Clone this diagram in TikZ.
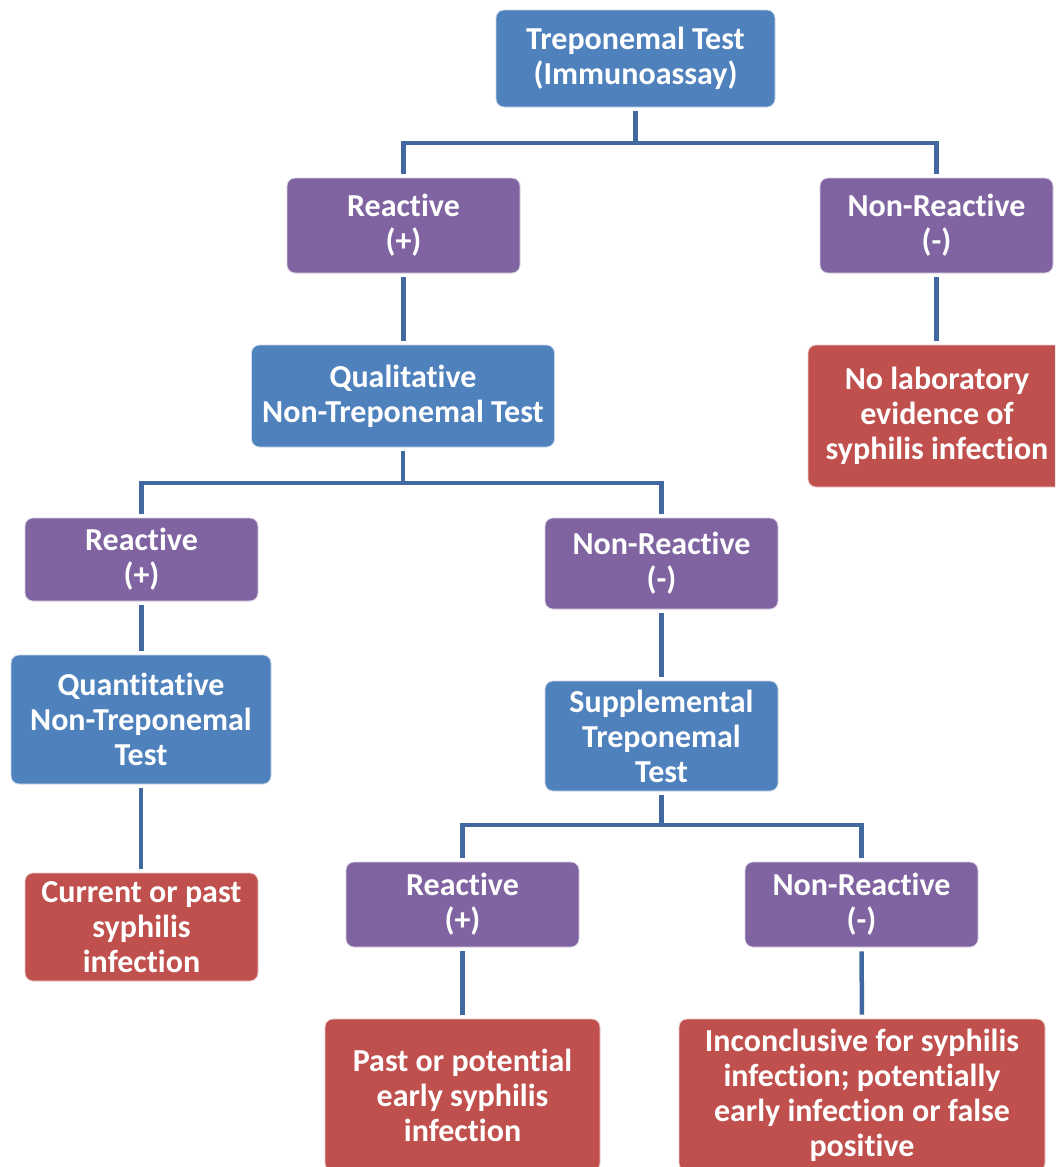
\documentclass[tikz,border=0pt]{standalone}
\usepackage{fontspec}
\setmainfont{Carlito}[Ligatures=NoCommon]
\definecolor{boxblue}{HTML}{4F81BD}
\definecolor{boxpurple}{HTML}{8064A2}
\definecolor{boxred}{HTML}{C0504D}
\definecolor{linecol}{HTML}{4169A0}
\begin{document}
\begin{tikzpicture}[x=1pt,y=-1pt,
  box/.style={rounded corners=8pt, inner sep=0pt, align=center, text=white,
    font=\fontsize{32}{35}\selectfont\bfseries, draw=white!70!#1, line width=0.8pt, fill=#1},
  conn/.style={draw=linecol, line width=4.5pt, shorten <=4pt, shorten >=4pt},
  connA/.style={draw=linecol, line width=4.5pt, shorten <=4pt}]
\clip (0,0) rectangle (1055,1167);
\fill[white] (0,0) rectangle (1055,1167);
\node[box=boxblue, minimum width=279pt, minimum height=97pt] (top) at (635.5,58.5) {Treponemal Test\\(Immunoassay)};
\node[box=boxpurple, minimum width=233pt, minimum height=95pt] (r1) at (403.5,225.5) {Reactive\\(+)};
\node[box=boxpurple, minimum width=233pt, minimum height=95pt] (n1) at (936.5,225.5) {Non-Reactive\\(-)};
\node[box=boxblue, minimum width=303pt, minimum height=102pt] (qual) at (403,396) {Qualitative\\Non-Treponemal Test};
\node[box=boxred, minimum width=258pt, minimum height=142pt] (nolab) at (937,416) {No laboratory\\evidence of\\syphilis infection};
\node[box=boxpurple, minimum width=233pt, minimum height=83pt] (r2) at (141.5,559.5) {Reactive\\(+)};
\node[box=boxpurple, minimum width=233pt, minimum height=91pt] (n2) at (661.5,563.5) {Non-Reactive\\(-)};
\node[box=boxblue, minimum width=260pt, minimum height=129pt] (quant) at (141,719.5) {Quantitative\\Non-Treponemal\\Test};
\node[box=boxblue, minimum width=233pt, minimum height=110pt] (supp) at (661.5,736) {Supplemental\\Treponemal\\Test};
\node[box=boxred, minimum width=233pt, minimum height=108pt] (cur) at (141.5,927) {Current or past\\syphilis\\infection};
\node[box=boxpurple, minimum width=233pt, minimum height=85pt] (r3) at (462.5,904.5) {Reactive\\(+)};
\node[box=boxpurple, minimum width=233pt, minimum height=85pt] (n3) at (861.5,904.5) {Non-Reactive\\(-)};
\node[box=boxred, minimum width=275pt, minimum height=152pt] (past) at (462.5,1095) {Past or potential\\early syphilis\\infection};
\node[box=boxred, minimum width=366pt, minimum height=152pt] (inc) at (862,1095) {Inconclusive for syphilis\\infection; potentially\\early infection or false\\positive};
\coordinate (j1) at (top.south |- 0,143);
\coordinate (j2) at (qual.south |- 0,483);
\coordinate (j3) at (supp.south |- 0,825);
\draw[connA] (top.south) -- (j1);
\draw[conn] (r1.north) |- (j1) -| (n1.north);
\draw[conn] (r1.south) -- (r1.south |- qual.north);
\draw[conn] (n1.south) -- (n1.south |- nolab.north);
\draw[connA] (qual.south) -- (j2);
\draw[conn] (r2.north) |- (j2) -| (n2.north);
\draw[conn] (r2.south) -- (r2.south |- quant.north);
\draw[conn] (n2.south) -- (supp.north);
\draw[conn] (quant.south) -- (quant.south |- cur.north);
\draw[connA] (supp.south) -- (j3);
\draw[conn] (r3.north) |- (j3) -| (n3.north);
\draw[conn] (r3.south) -- (past.north);
\draw[conn] (n3.south) -- (inc.north);
\end{tikzpicture}
\end{document}
